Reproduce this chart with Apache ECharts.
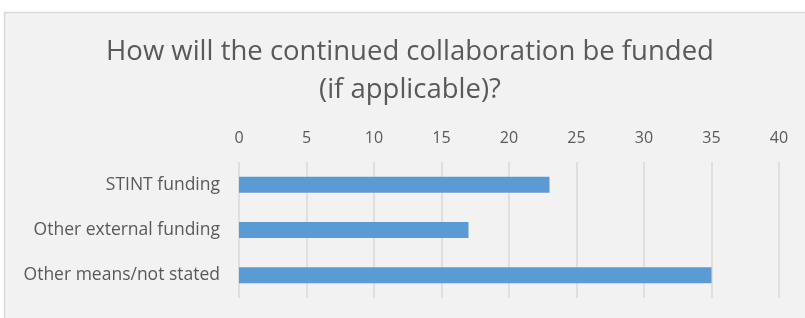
<!DOCTYPE html>
<html>
<head>
<meta charset="utf-8">
<script src="https://cdn.jsdelivr.net/npm/echarts@6/dist/echarts.min.js"></script>
<style>
html, body { margin: 0; padding: 0; background: #fff; }
#main { width: 805px; height: 318px; }
</style>
</head>
<body>
<div id="main"></div>
<script>
var categories = ['STINT funding', 'Other external funding', 'Other means/not stated'];
var values = [23, 17, 35];

var textColor = '#595959';
var fontName = '"Open Sans", sans-serif';

var myChart = echarts.init(document.getElementById('main'));

var option = {
    animation: false,
    backgroundColor: '#fff',
    graphic: [{
        type: 'rect',
        z: -10,
        silent: true,
        shape: { x: 4.5, y: 12.5, width: 900, height: 400 },
        style: { fill: '#f2f2f2', stroke: '#d9d9d9', lineWidth: 1.5 }
    }],
    title: {
        text: 'How will the continued collaboration be funded\n(if applicable)?',
        left: 410,
        top: 33,
        padding: 0,
        textAlign: 'center',
        textStyle: {
            color: textColor,
            fontFamily: fontName,
            fontSize: 27.5,
            fontWeight: 'normal',
            lineHeight: 38
        }
    },
    grid: {
        left: 239,
        right: 26,
        top: 162,
        bottom: 20,
        containLabel: false
    },
    xAxis: {
        type: 'value',
        position: 'top',
        min: 0,
        max: 40,
        interval: 5,
        axisLine: { show: false },
        axisTick: { show: false },
        axisLabel: {
            color: textColor,
            fontFamily: fontName,
            fontSize: 16,
            margin: 16
        },
        splitLine: { lineStyle: { color: '#d9d9d9', width: 1.5 } }
    },
    yAxis: {
        type: 'category',
        inverse: true,
        data: categories,
        axisLine: { show: false },
        axisTick: { show: false },
        axisLabel: {
            color: textColor,
            fontFamily: fontName,
            fontSize: 17.5,
            margin: 19
        }
    },
    series: [{
        type: 'bar',
        data: values,
        barWidth: 16,
        itemStyle: { color: '#5b9bd5' }
    }]
};

myChart.setOption(option);
</script>
</body>
</html>
